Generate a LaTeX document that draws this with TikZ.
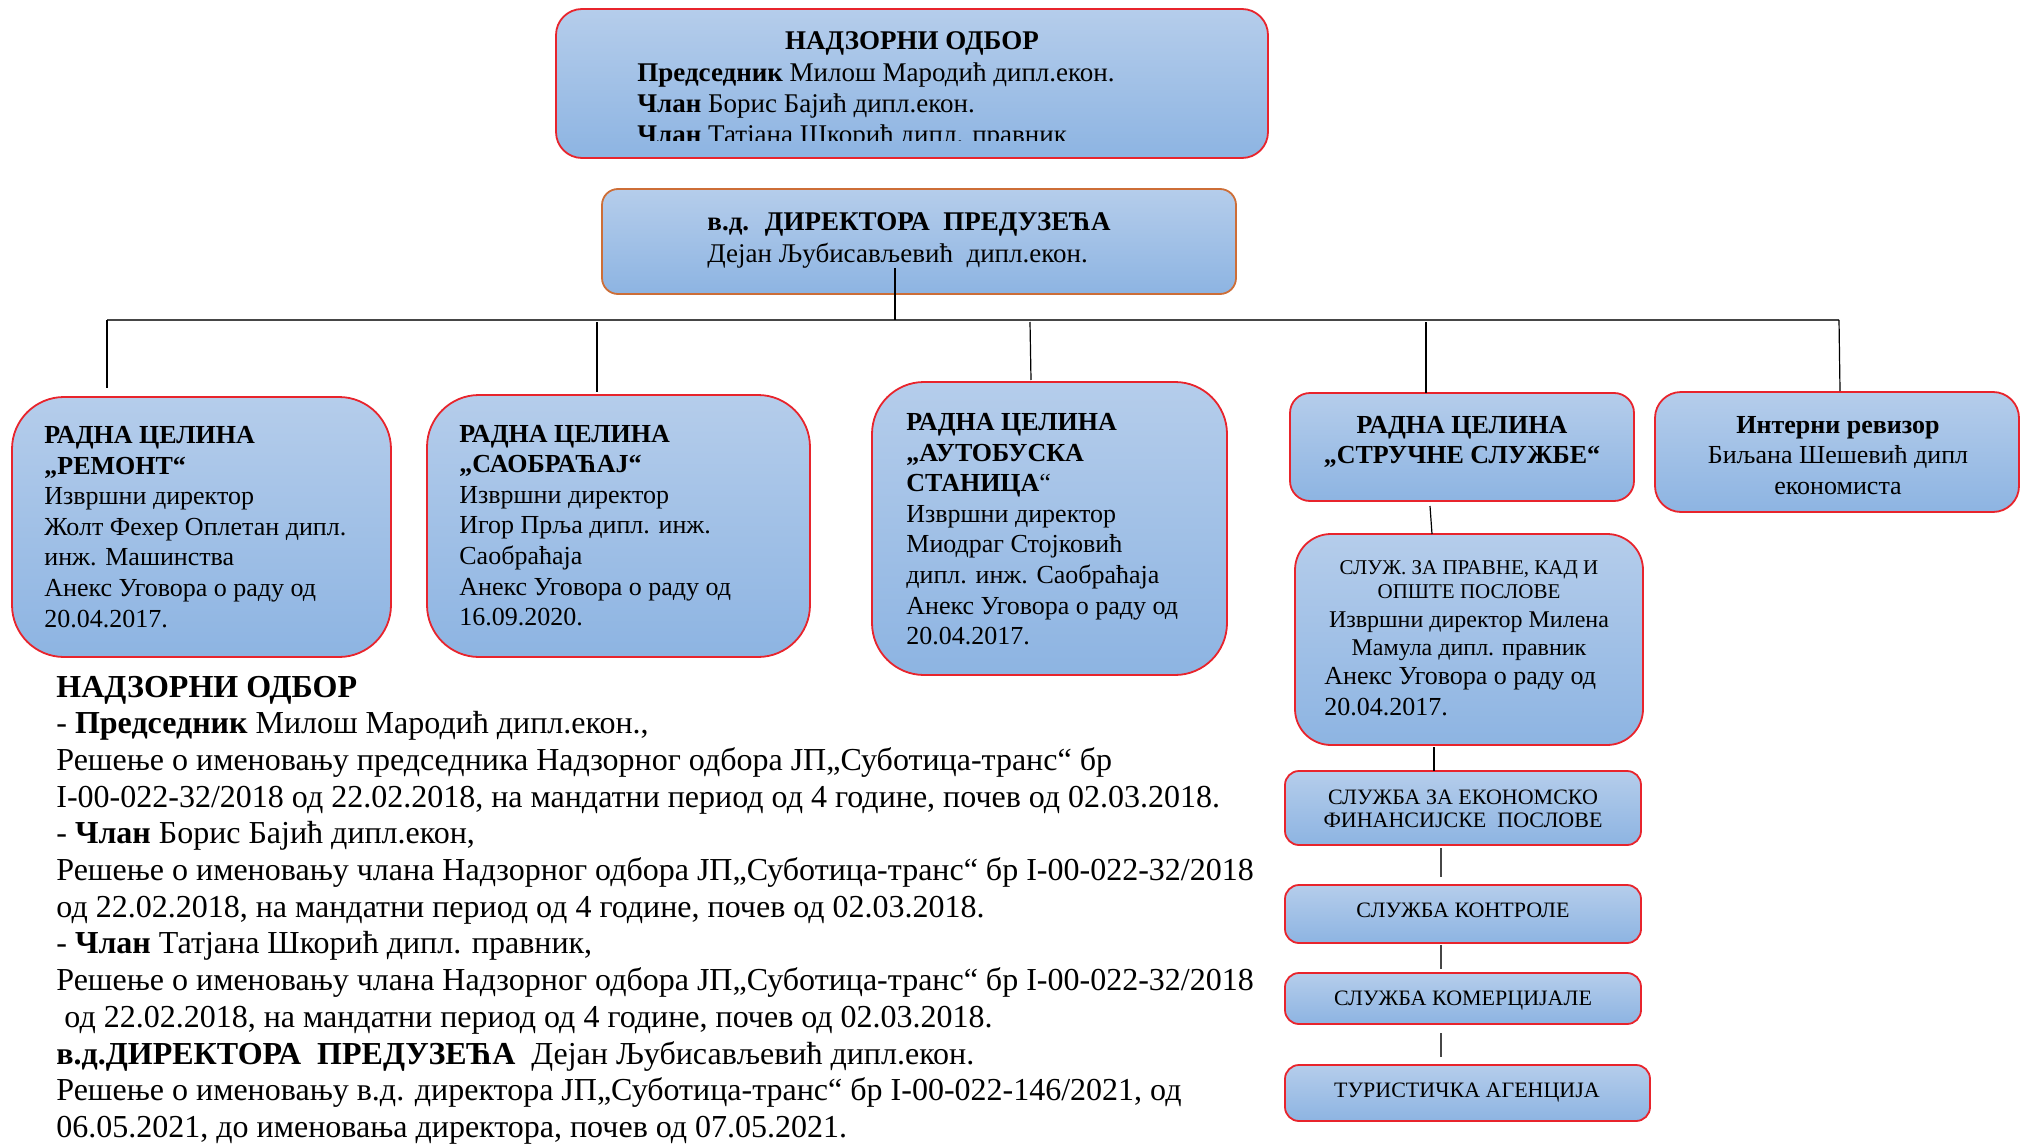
\documentclass[tikz,border=0pt]{standalone}
\usepackage{fontspec}
\setmainfont{Liberation Serif}
\usetikzlibrary{fit}
\definecolor{boxred}{RGB}{232,36,44}
\definecolor{boxorange}{RGB}{205,110,55}
\definecolor{boxtop}{RGB}{181,205,235}
\definecolor{boxbot}{RGB}{141,180,226}
\definecolor{linegray}{RGB}{70,70,70}
\tikzset{
  orgbox/.style={draw=boxred, line width=0.9pt, top color=boxtop, bottom color=boxbot, inner sep=0pt},
  conn/.style={draw=black, line width=0.6pt},
  bus/.style={draw=linegray, line width=0.9pt},
  stackline/.style={draw=linegray, line width=0.9pt},
  txt/.style={inner sep=0pt, align=left, font=\fontsize{13}{15.3}\selectfont},
  ctxt/.style={inner sep=0pt, align=center, font=\fontsize{13}{15.3}\selectfont},
  small/.style={inner sep=0pt, align=center, font=\fontsize{11}{11.6}\selectfont},
}
\begin{document}
\begin{tikzpicture}[x=0.5pt,y=-0.5pt]
\useasboundingbox (0,0) rectangle (2029,1145);

% ---------- boxes ----------
\node[orgbox, rounded corners=13pt, fit={(556,9) (1268,158)}] (nadzor) {};
\node[orgbox, draw=boxorange, rounded corners=8pt, fit={(602,189) (1236,294)}] (dir) {};
\node[orgbox, rounded corners=26pt, fit={(12,397) (391,657)}] (remont) {};
\node[orgbox, rounded corners=26pt, fit={(427,395) (810,657)}] (saob) {};
\node[orgbox, rounded corners=26pt, fit={(872,382) (1227,675)}] (auto) {};
\node[orgbox, rounded corners=10pt, fit={(1290,393) (1634,501)}] (struc) {};
\node[orgbox, rounded corners=13pt, fit={(1655,392) (2019,512)}] (interni) {};
\node[orgbox, rounded corners=18pt, fit={(1295,534) (1643,745)}] (pravne) {};
\node[orgbox, rounded corners=7pt, fit={(1285,771) (1641,845)}] (ekon) {};
\node[orgbox, rounded corners=7pt, fit={(1285,885) (1641,943)}] (kontr) {};
\node[orgbox, rounded corners=7pt, fit={(1285,973) (1641,1024)}] (komer) {};
\node[orgbox, rounded corners=7pt, fit={(1285,1065) (1650,1121)}] (turist) {};

% ---------- texts in boxes (anchor base = baseline of last line) ----------
\node[ctxt, font=\fontsize{13.5}{15.5}\selectfont, anchor=base] (nadzor-h) at (912,50) {\textbf{НАДЗОРНИ ОДБОР}};
\begin{scope}
\clip (556,9) rectangle (1268,141);
\node[txt, font=\fontsize{13.5}{15.5}\selectfont, anchor=base west] (nadzor-t) at (637,143.5)
  {\textbf{Председник} Милош Мародић дипл.екон.\\ \textbf{Члан} Борис Бајић дипл.екон.\\ \textbf{Члан} Татјана Шкорић дипл. правник};
\end{scope}

\node[ctxt, font=\fontsize{13.5}{15.5}\selectfont, anchor=base] (dir-h) at (909,230) {\textbf{в.д.~ ДИРЕКТОРА~ ПРЕДУЗЕЋА}};
\node[txt, font=\fontsize{13.5}{15.5}\selectfont, anchor=base west] (dir-t) at (707,262) {Дејан Љубисављевић~ дипл.екон.};

\node[txt, anchor=base west] (remont-t) at (44,627)
  {\textbf{РАДНА ЦЕЛИНА}\\ \textbf{„РЕМОНТ“}\\ Извршни директор\\ Жолт Фехер Оплетан дипл.\\ инж. Машинства\\ Анекс Уговора о раду од\\ 20.04.2017.};
\node[txt, anchor=base west] (saob-t) at (459,625.6)
  {\textbf{РАДНА ЦЕЛИНА}\\ \textbf{„САОБРАЋАЈ“}\\ Извршни директор\\ Игор Прља дипл. инж.\\ Саобраћаја\\ Анекс Уговора о раду од\\ 16.09.2020.};
\node[txt, anchor=base west] (auto-t) at (906,644.7)
  {\textbf{РАДНА ЦЕЛИНА}\\ \textbf{„АУТОБУСКА}\\ \textbf{СТАНИЦА}“\\ Извршни директор\\ Миодраг Стојковић\\ дипл. инж. Саобраћаја\\ Анекс Уговора о раду од\\ 20.04.2017.};
\node[ctxt, anchor=base] (struc-t) at (1462,463.6) {\textbf{РАДНА ЦЕЛИНА}\\ \textbf{„СТРУЧНЕ СЛУЖБЕ“}};
\node[ctxt, anchor=base] (interni-t) at (1838,494.2) {\textbf{Интерни ревизор}\\ Биљана Шешевић дипл\\ економиста};

\node[small, font=\fontsize{10.5}{12.3}\selectfont, anchor=base] (pravne-h) at (1469,598.6) {СЛУЖ. ЗА ПРАВНЕ, КАД И\\ ОПШТЕ ПОСЛОВЕ};
\node[ctxt, font=\fontsize{12}{13.6}\selectfont, anchor=base] (pravne-m) at (1469,655) {Извршни директор Милена\\ Мамула дипл. правник};
\node[txt, font=\fontsize{13}{15.5}\selectfont, anchor=base west] (pravne-t) at (1324,715) {Анекс Уговора о раду од\\ 20.04.2017.};

\node[small, anchor=base] (ekon-t) at (1463,827.2) {СЛУЖБА ЗА ЕКОНОМСКО\\ ФИНАНСИЈСКЕ~ ПОСЛОВЕ};
\node[small, anchor=base] (kontr-t) at (1463,917) {СЛУЖБА КОНТРОЛЕ};
\node[small, anchor=base] (komer-t) at (1463,1005) {СЛУЖБА КОМЕРЦИЈАЛЕ};
\node[small, anchor=base] (turist-t) at (1467,1097) {ТУРИСТИЧКА АГЕНЦИЈА};

% ---------- connectors ----------
\coordinate (bus-l) at (107,320);
\coordinate (bus-r) at (1839,320);
\coordinate (dir-s) at (895,268);
\coordinate (dir-b) at (895,320);
\draw[bus] (bus-l) -- (bus-r);
\draw[conn] (dir-s) -- (dir-b);

\coordinate (d1a) at (107,320);  \coordinate (d1b) at (107,388);
\coordinate (d2a) at (597,322);  \coordinate (d2b) at (597,392);
\coordinate (d3a) at (1030,322); \coordinate (d3b) at (1031,380);
\coordinate (d4a) at (1426,322); \coordinate (d4b) at (1426,393);
\coordinate (d5a) at (1839,320); \coordinate (d5b) at (1840,391);
\draw[conn] (d1a) -- (d1b);
\draw[conn] (d2a) -- (d2b);
\draw[conn] (d3a) -- (d3b);
\draw[conn] (d4a) -- (d4b);
\draw[conn] (d5a) -- (d5b);

\coordinate (s1a) at (1430,506);  \coordinate (s1b) at (1432,534);
\coordinate (s2a) at (1434,747);  \coordinate (s2b) at (1434,771);
\coordinate (s3a) at (1441,848);  \coordinate (s3b) at (1441,877);
\coordinate (s4a) at (1441,945);  \coordinate (s4b) at (1441,969);
\coordinate (s5a) at (1441,1033); \coordinate (s5b) at (1441,1057);
\draw[conn] (s1a) -- (s1b);
\draw[conn] (s2a) -- (s2b);
\draw[stackline] (s3a) -- (s3b);
\draw[stackline] (s4a) -- (s4b);
\draw[stackline] (s5a) -- (s5b);

% ---------- bottom text ----------
\node[txt, font=\fontsize{16}{18.35}\selectfont, anchor=base west] (notes) at (56,1137.4)
  {\textbf{НАДЗОРНИ ОДБОР}\\
   - \textbf{Председник} Милош Мародић дипл.екон.,\\
   Решење о именовању председника Надзорног одбора ЈП„Суботица-транс“ бр\\
   I-00-022-32/2018 од 22.02.2018, на мандатни период од 4 године, почев од 02.03.2018.\\
   - \textbf{Члан} Борис Бајић дипл.екон,\\
   Решење о именовању члана Надзорног одбора ЈП„Суботица-транс“ бр I-00-022-32/2018\\
   од 22.02.2018, на мандатни период од 4 године, почев од 02.03.2018.\\
   - \textbf{Члан} Татјана Шкорић дипл. правник,\\
   Решење о именовању члана Надзорног одбора ЈП„Суботица-транс“ бр I-00-022-32/2018\\
   \hspace*{4pt}од 22.02.2018, на мандатни период од 4 године, почев од 02.03.2018.\\
   \textbf{в.д.ДИРЕКТОРА~ ПРЕДУЗЕЋА}~ Дејан Љубисављевић дипл.екон.\\
   Решење о именовању в.д. директора ЈП„Суботица-транс“ бр I-00-022-146/2021, од\\
   06.05.2021, до именовања директора, почев од 07.05.2021.};
\end{tikzpicture}
\end{document}
